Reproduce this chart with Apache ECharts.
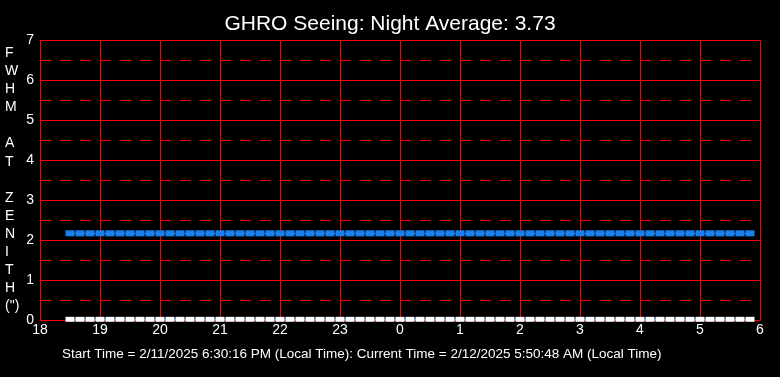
<!DOCTYPE html>
<html>
<head>
<meta charset="utf-8">
<script src="https://cdn.jsdelivr.net/npm/echarts@6/dist/echarts.min.js"></script>
<style>
  html, body { margin: 0; padding: 0; background: #000; }
  #chart { width: 780px; height: 377px; }
</style>
</head>
<body>
<div id="chart"></div>
<script>
// sample times (local clock, 10 min steps through the night)
const sampleTimes = [
  '18:30', '18:40', '18:50', '19:00', '19:10', '19:20', '19:30', '19:40', '19:50',
  '20:00', '20:10', '20:20', '20:30', '20:40', '20:50',
  '21:00', '21:10', '21:20', '21:30', '21:40', '21:50',
  '22:00', '22:10', '22:20', '22:30', '22:40', '22:50',
  '23:00', '23:10', '23:20', '23:30', '23:40', '23:50',
  '00:00', '00:10', '00:20', '00:30', '00:40', '00:50',
  '01:00', '01:10', '01:20', '01:30', '01:40', '01:50',
  '02:00', '02:10', '02:20', '02:30', '02:40', '02:50',
  '03:00', '03:10', '03:20', '03:30', '03:40', '03:50',
  '04:00', '04:10', '04:20', '04:30', '04:40', '04:50',
  '05:00', '05:10', '05:20', '05:30', '05:40', '05:50'
];

// FWHM seeing values (arcsec)
const fwhmValues = [
  2.18, 2.18, 2.18, 2.18, 2.18, 2.18, 2.18, 2.18, 2.18,
  2.18, 2.18, 2.18, 2.18, 2.18, 2.18,
  2.18, 2.18, 2.18, 2.18, 2.18, 2.18,
  2.18, 2.18, 2.18, 2.18, 2.18, 2.18,
  2.18, 2.18, 2.18, 2.18, 2.18, 2.18,
  2.18, 2.18, 2.18, 2.18, 2.18, 2.18,
  2.18, 2.18, 2.18, 2.18, 2.18, 2.18,
  2.18, 2.18, 2.18, 2.18, 2.18, 2.18,
  2.18, 2.18, 2.18, 2.18, 2.18, 2.18,
  2.18, 2.18, 2.18, 2.18, 2.18, 2.18,
  2.18, 2.18, 2.18, 2.18, 2.18, 2.18
];

// baseline trace along the bottom
const baseValues = [
  0.03, 0.03, 0.03, 0.03, 0.03, 0.03, 0.03, 0.03, 0.03,
  0.03, 0.03, 0.03, 0.03, 0.03, 0.03,
  0.03, 0.03, 0.03, 0.03, 0.03, 0.03,
  0.03, 0.03, 0.03, 0.03, 0.03, 0.03,
  0.03, 0.03, 0.03, 0.03, 0.03, 0.03,
  0.03, 0.03, 0.03, 0.03, 0.03, 0.03,
  0.03, 0.03, 0.03, 0.03, 0.03, 0.03,
  0.03, 0.03, 0.03, 0.03, 0.03, 0.03,
  0.03, 0.03, 0.03, 0.03, 0.03, 0.03,
  0.03, 0.03, 0.03, 0.03, 0.03, 0.03,
  0.03, 0.03, 0.03, 0.03, 0.03, 0.03
];

const titleText = 'GHRO Seeing: Night Average: 3.73';
// y axis title, one glyph per line
const yAxisTitleLines = ['F', 'W', 'H', 'M', ' ', 'A', 'T', ' ', 'Z', 'E', 'N', 'I', 'T', 'H', '(")'];
const footerText = 'Start Time = 2/11/2025 6:30:16 PM (Local Time): Current Time = 2/12/2025 5:50:48 AM (Local Time)';

const FONT = '"Liberation Sans", Arial, sans-serif';
const RED = '#ff0000';
const BLUE = '#1a80f0';

// "HH:MM" -> hours from midnight of start day (morning hours get +24)
function toHour(t) {
  const [h, m] = t.split(':').map(Number);
  const hr = h + m / 60;
  return hr < 12 ? hr + 24 : hr;
}

const xs = sampleTimes.map(toHour);
const fwhmData = xs.map((x, i) => [x, fwhmValues[i]]);
const baseData = xs.map((x, i) => [x, baseValues[i]]);

const chart = echarts.init(document.getElementById('chart'));

chart.setOption({
  backgroundColor: '#000',
  animation: false,
  title: {
    text: titleText,
    left: 'center',
    top: 9,
    textStyle: { color: '#fff', fontSize: 21, fontWeight: 'normal', fontFamily: FONT }
  },
  // 40px per unit so every grid row lands on whole pixels
  grid: { left: 40, right: 20, top: 40.5, height: 280 },
  xAxis: {
    type: 'value',
    min: 18,
    max: 30,
    interval: 1,
    axisLine: { show: true, lineStyle: { color: RED, width: 1 } },
    axisTick: { show: false },
    axisLabel: {
      color: '#fff',
      fontSize: 14,
      fontFamily: FONT,
      margin: 3,
      formatter: (v) => String(v % 24)
    },
    splitLine: { show: true, lineStyle: { color: RED, width: 1 } }
  },
  yAxis: {
    type: 'value',
    min: 0,
    max: 7,
    interval: 1,
    axisLine: { show: true, lineStyle: { color: RED, width: 1 } },
    axisTick: { show: false },
    axisLabel: { color: '#fff', fontSize: 14, fontFamily: FONT, margin: 6 },
    splitLine: { show: true, lineStyle: { color: RED, width: 1 } },
    minorTick: { show: false, splitNumber: 2 },
    minorSplitLine: { show: true, lineStyle: { color: RED, width: 1, type: [11, 9] } }
  },
  graphic: [
    {
      type: 'text',
      left: 5,
      top: 44,
      style: {
        text: yAxisTitleLines.join('\n'),
        fill: '#fff',
        fontSize: 14,
        lineHeight: 18.1,
        fontFamily: FONT,
        align: 'center',
        x: 8
      }
    },
    {
      type: 'text',
      left: 62,
      top: 347,
      style: { text: footerText, fill: '#fff', fontSize: 13.5, fontFamily: FONT }
    }
  ],
  series: [
    {
      name: 'base',
      type: 'line',
      data: baseData,
      symbol: 'rect',
      symbolSize: [9, 5],
      lineStyle: { color: BLUE, width: 1 },
      itemStyle: { color: '#fff' },
      z: 3
    },
    {
      name: 'FWHM',
      type: 'line',
      data: fwhmData,
      symbol: 'rect',
      symbolSize: [9, 6],
      lineStyle: { color: BLUE, width: 1 },
      itemStyle: { color: BLUE },
      z: 4
    }
  ]
});
</script>
</body>
</html>
